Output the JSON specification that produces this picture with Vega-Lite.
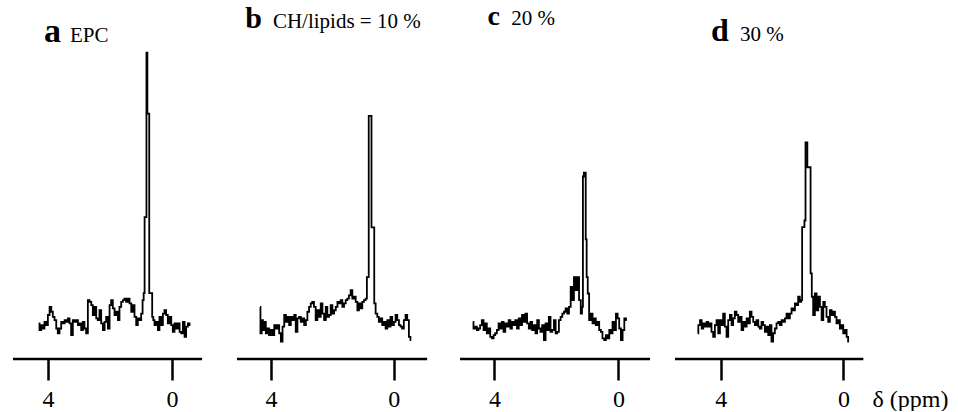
{
  "$schema": "https://vega.github.io/schema/vega-lite/v6.json",
  "padding": {"left": 11, "top": 0, "right": 0, "bottom": 0},
  "background": "white",
  "bounds": "flush",
  "spacing": 0,
  "config": {
    "view": {"stroke": null},
    "axisX": {
      "domain": false,
      "tickColor": "black", "tickWidth": 2.5, "tickSize": 21,
      "labelFont": "Liberation Serif", "labelFontSize": 24, "labelColor": "black",
      "labelBaseline": "alphabetic", "labelPadding": 26, "labelFlush": false, "labelOverlap": false,
      "grid": false
    }
  },
  "datasets": {
    "labels": [
      {"panel": "a", "letter": "a", "name": "EPC"},
      {"panel": "b", "letter": "b", "name": "CH/lipids = 10 %"},
      {"panel": "c", "letter": "c", "name": "20 %"},
      {"panel": "d", "letter": "d", "name": "30 %"}
    ],
    "spectra": [
      {"panel":"a","ppm":4.30,"intensity":11.9},{"panel":"a","ppm":4.25,"intensity":9.7},{"panel":"a","ppm":4.19,"intensity":11.3},{"panel":"a","ppm":4.14,"intensity":10.2},{"panel":"a","ppm":4.09,"intensity":12.4},{"panel":"a","ppm":4.03,"intensity":11.3},{"panel":"a","ppm":3.98,"intensity":14.7},{"panel":"a","ppm":3.92,"intensity":17.4},{"panel":"a","ppm":3.87,"intensity":15.8},{"panel":"a","ppm":3.82,"intensity":14.1},{"panel":"a","ppm":3.76,"intensity":13.0},{"panel":"a","ppm":3.71,"intensity":10.2},{"panel":"a","ppm":3.66,"intensity":8.6},{"panel":"a","ppm":3.60,"intensity":10.2},{"panel":"a","ppm":3.55,"intensity":12.4},{"panel":"a","ppm":3.49,"intensity":11.9},{"panel":"a","ppm":3.44,"intensity":13.0},{"panel":"a","ppm":3.39,"intensity":12.4},{"panel":"a","ppm":3.33,"intensity":13.6},{"panel":"a","ppm":3.28,"intensity":11.9},{"panel":"a","ppm":3.23,"intensity":8.0},{"panel":"a","ppm":3.17,"intensity":13.0},{"panel":"a","ppm":3.12,"intensity":12.4},{"panel":"a","ppm":3.06,"intensity":13.0},{"panel":"a","ppm":3.01,"intensity":11.3},{"panel":"a","ppm":2.96,"intensity":11.9},{"panel":"a","ppm":2.90,"intensity":9.7},{"panel":"a","ppm":2.85,"intensity":12.4},{"panel":"a","ppm":2.80,"intensity":10.2},{"panel":"a","ppm":2.74,"intensity":8.6},{"panel":"a","ppm":2.69,"intensity":19.7},{"panel":"a","ppm":2.63,"intensity":19.1},{"panel":"a","ppm":2.58,"intensity":18.0},{"panel":"a","ppm":2.53,"intensity":14.7},{"panel":"a","ppm":2.47,"intensity":17.4},{"panel":"a","ppm":2.42,"intensity":13.6},{"panel":"a","ppm":2.37,"intensity":13.0},{"panel":"a","ppm":2.31,"intensity":16.3},{"panel":"a","ppm":2.26,"intensity":11.9},{"panel":"a","ppm":2.20,"intensity":9.7},{"panel":"a","ppm":2.15,"intensity":12.4},{"panel":"a","ppm":2.10,"intensity":14.1},{"panel":"a","ppm":2.04,"intensity":10.2},{"panel":"a","ppm":1.99,"intensity":18.0},{"panel":"a","ppm":1.94,"intensity":19.7},{"panel":"a","ppm":1.88,"intensity":16.9},{"panel":"a","ppm":1.83,"intensity":14.7},{"panel":"a","ppm":1.77,"intensity":15.8},{"panel":"a","ppm":1.72,"intensity":13.0},{"panel":"a","ppm":1.67,"intensity":17.4},{"panel":"a","ppm":1.61,"intensity":19.1},{"panel":"a","ppm":1.56,"intensity":19.7},{"panel":"a","ppm":1.51,"intensity":20.2},{"panel":"a","ppm":1.45,"intensity":19.1},{"panel":"a","ppm":1.40,"intensity":20.2},{"panel":"a","ppm":1.34,"intensity":18.6},{"panel":"a","ppm":1.29,"intensity":15.8},{"panel":"a","ppm":1.24,"intensity":18.0},{"panel":"a","ppm":1.18,"intensity":14.1},{"panel":"a","ppm":1.13,"intensity":11.3},{"panel":"a","ppm":1.08,"intensity":13.6},{"panel":"a","ppm":1.02,"intensity":13.0},{"panel":"a","ppm":0.97,"intensity":15.2},{"panel":"a","ppm":0.93,"intensity":19.7},{"panel":"a","ppm":0.90,"intensity":22.0},{"panel":"a","ppm":0.87,"intensity":47.4},{"panel":"a","ppm":0.84,"intensity":47.4},{"panel":"a","ppm":0.81,"intensity":102.4},{"panel":"a","ppm":0.78,"intensity":82.0},{"panel":"a","ppm":0.75,"intensity":82.0},{"panel":"a","ppm":0.72,"intensity":22.0},{"panel":"a","ppm":0.69,"intensity":22.0},{"panel":"a","ppm":0.66,"intensity":22.0},{"panel":"a","ppm":0.62,"intensity":14.1},{"panel":"a","ppm":0.59,"intensity":13.0},{"panel":"a","ppm":0.54,"intensity":11.3},{"panel":"a","ppm":0.48,"intensity":12.4},{"panel":"a","ppm":0.43,"intensity":9.7},{"panel":"a","ppm":0.38,"intensity":14.1},{"panel":"a","ppm":0.32,"intensity":11.3},{"panel":"a","ppm":0.27,"intensity":15.2},{"panel":"a","ppm":0.22,"intensity":16.3},{"panel":"a","ppm":0.16,"intensity":14.7},{"panel":"a","ppm":0.11,"intensity":11.9},{"panel":"a","ppm":0.05,"intensity":14.1},{"panel":"a","ppm":0.00,"intensity":11.3},{"panel":"a","ppm":-0.05,"intensity":9.1},{"panel":"a","ppm":-0.11,"intensity":11.9},{"panel":"a","ppm":-0.16,"intensity":10.2},{"panel":"a","ppm":-0.22,"intensity":11.9},{"panel":"a","ppm":-0.27,"intensity":9.1},{"panel":"a","ppm":-0.32,"intensity":8.6},{"panel":"a","ppm":-0.38,"intensity":12.4},{"panel":"a","ppm":-0.43,"intensity":7.4},{"panel":"a","ppm":-0.48,"intensity":10.8},{"panel":"a","ppm":-0.54,"intensity":11.9},{"panel":"a","ppm":-0.59,"intensity":11.3},

      {"panel":"b","ppm":4.36,"intensity":17.4},{"panel":"b","ppm":4.33,"intensity":8.6},{"panel":"b","ppm":4.28,"intensity":13.0},{"panel":"b","ppm":4.25,"intensity":9.7},{"panel":"b","ppm":4.20,"intensity":12.4},{"panel":"b","ppm":4.14,"intensity":8.6},{"panel":"b","ppm":4.09,"intensity":10.2},{"panel":"b","ppm":4.04,"intensity":8.0},{"panel":"b","ppm":3.98,"intensity":9.7},{"panel":"b","ppm":3.92,"intensity":8.0},{"panel":"b","ppm":3.87,"intensity":11.3},{"panel":"b","ppm":3.82,"intensity":10.2},{"panel":"b","ppm":3.76,"intensity":11.3},{"panel":"b","ppm":3.71,"intensity":8.6},{"panel":"b","ppm":3.65,"intensity":5.8},{"panel":"b","ppm":3.60,"intensity":10.8},{"panel":"b","ppm":3.54,"intensity":14.7},{"panel":"b","ppm":3.49,"intensity":12.4},{"panel":"b","ppm":3.44,"intensity":14.1},{"panel":"b","ppm":3.38,"intensity":11.3},{"panel":"b","ppm":3.33,"intensity":14.1},{"panel":"b","ppm":3.27,"intensity":13.0},{"panel":"b","ppm":3.22,"intensity":14.7},{"panel":"b","ppm":3.17,"intensity":9.1},{"panel":"b","ppm":3.11,"intensity":13.6},{"panel":"b","ppm":3.06,"intensity":14.1},{"panel":"b","ppm":3.00,"intensity":12.4},{"panel":"b","ppm":2.95,"intensity":13.6},{"panel":"b","ppm":2.89,"intensity":11.3},{"panel":"b","ppm":2.84,"intensity":13.0},{"panel":"b","ppm":2.79,"intensity":15.8},{"panel":"b","ppm":2.73,"intensity":17.4},{"panel":"b","ppm":2.68,"intensity":18.6},{"panel":"b","ppm":2.63,"intensity":19.1},{"panel":"b","ppm":2.57,"intensity":17.4},{"panel":"b","ppm":2.52,"intensity":13.0},{"panel":"b","ppm":2.46,"intensity":16.3},{"panel":"b","ppm":2.41,"intensity":14.1},{"panel":"b","ppm":2.35,"intensity":18.6},{"panel":"b","ppm":2.30,"intensity":15.2},{"panel":"b","ppm":2.24,"intensity":13.0},{"panel":"b","ppm":2.19,"intensity":17.4},{"panel":"b","ppm":2.14,"intensity":14.1},{"panel":"b","ppm":2.08,"intensity":14.7},{"panel":"b","ppm":2.03,"intensity":18.0},{"panel":"b","ppm":1.97,"intensity":15.2},{"panel":"b","ppm":1.92,"intensity":16.3},{"panel":"b","ppm":1.86,"intensity":17.4},{"panel":"b","ppm":1.81,"intensity":19.1},{"panel":"b","ppm":1.76,"intensity":18.6},{"panel":"b","ppm":1.70,"intensity":19.7},{"panel":"b","ppm":1.65,"intensity":17.4},{"panel":"b","ppm":1.59,"intensity":18.6},{"panel":"b","ppm":1.54,"intensity":19.7},{"panel":"b","ppm":1.49,"intensity":20.2},{"panel":"b","ppm":1.43,"intensity":21.3},{"panel":"b","ppm":1.38,"intensity":23.0},{"panel":"b","ppm":1.32,"intensity":20.2},{"panel":"b","ppm":1.27,"intensity":20.8},{"panel":"b","ppm":1.21,"intensity":19.1},{"panel":"b","ppm":1.16,"intensity":16.3},{"panel":"b","ppm":1.11,"intensity":18.6},{"panel":"b","ppm":1.05,"intensity":16.9},{"panel":"b","ppm":1.00,"intensity":19.1},{"panel":"b","ppm":0.94,"intensity":19.7},{"panel":"b","ppm":0.89,"intensity":20.2},{"panel":"b","ppm":0.86,"intensity":27.4},{"panel":"b","ppm":0.83,"intensity":27.4},{"panel":"b","ppm":0.80,"intensity":81.3},{"panel":"b","ppm":0.77,"intensity":81.3},{"panel":"b","ppm":0.74,"intensity":81.3},{"panel":"b","ppm":0.71,"intensity":44.0},{"panel":"b","ppm":0.68,"intensity":44.0},{"panel":"b","ppm":0.65,"intensity":44.0},{"panel":"b","ppm":0.62,"intensity":18.6},{"panel":"b","ppm":0.56,"intensity":15.2},{"panel":"b","ppm":0.51,"intensity":14.1},{"panel":"b","ppm":0.46,"intensity":12.4},{"panel":"b","ppm":0.40,"intensity":13.6},{"panel":"b","ppm":0.35,"intensity":11.3},{"panel":"b","ppm":0.29,"intensity":12.4},{"panel":"b","ppm":0.24,"intensity":10.2},{"panel":"b","ppm":0.18,"intensity":13.0},{"panel":"b","ppm":0.13,"intensity":10.8},{"panel":"b","ppm":0.08,"intensity":14.1},{"panel":"b","ppm":0.02,"intensity":11.3},{"panel":"b","ppm":-0.03,"intensity":12.4},{"panel":"b","ppm":-0.09,"intensity":14.7},{"panel":"b","ppm":-0.14,"intensity":13.0},{"panel":"b","ppm":-0.20,"intensity":11.3},{"panel":"b","ppm":-0.25,"intensity":10.8},{"panel":"b","ppm":-0.30,"intensity":10.2},{"panel":"b","ppm":-0.36,"intensity":13.0},{"panel":"b","ppm":-0.41,"intensity":14.7},{"panel":"b","ppm":-0.47,"intensity":13.0},{"panel":"b","ppm":-0.52,"intensity":7.4},{"panel":"b","ppm":-0.57,"intensity":6.3},

      {"panel":"c","ppm":4.70,"intensity":12.4},{"panel":"c","ppm":4.65,"intensity":10.2},{"panel":"c","ppm":4.59,"intensity":10.8},{"panel":"c","ppm":4.54,"intensity":9.7},{"panel":"c","ppm":4.49,"intensity":10.2},{"panel":"c","ppm":4.43,"intensity":11.3},{"panel":"c","ppm":4.38,"intensity":13.0},{"panel":"c","ppm":4.32,"intensity":9.7},{"panel":"c","ppm":4.27,"intensity":11.9},{"panel":"c","ppm":4.22,"intensity":8.6},{"panel":"c","ppm":4.16,"intensity":10.2},{"panel":"c","ppm":4.11,"intensity":7.4},{"panel":"c","ppm":4.05,"intensity":6.9},{"panel":"c","ppm":4.00,"intensity":8.0},{"panel":"c","ppm":3.95,"intensity":8.6},{"panel":"c","ppm":3.89,"intensity":9.7},{"panel":"c","ppm":3.84,"intensity":11.9},{"panel":"c","ppm":3.78,"intensity":10.2},{"panel":"c","ppm":3.73,"intensity":12.4},{"panel":"c","ppm":3.68,"intensity":9.1},{"panel":"c","ppm":3.62,"intensity":11.9},{"panel":"c","ppm":3.57,"intensity":10.8},{"panel":"c","ppm":3.51,"intensity":13.0},{"panel":"c","ppm":3.46,"intensity":10.2},{"panel":"c","ppm":3.41,"intensity":12.4},{"panel":"c","ppm":3.35,"intensity":11.3},{"panel":"c","ppm":3.30,"intensity":13.0},{"panel":"c","ppm":3.24,"intensity":10.2},{"panel":"c","ppm":3.19,"intensity":13.6},{"panel":"c","ppm":3.14,"intensity":11.3},{"panel":"c","ppm":3.08,"intensity":14.7},{"panel":"c","ppm":3.03,"intensity":12.4},{"panel":"c","ppm":2.97,"intensity":15.2},{"panel":"c","ppm":2.92,"intensity":11.9},{"panel":"c","ppm":2.86,"intensity":10.2},{"panel":"c","ppm":2.81,"intensity":12.4},{"panel":"c","ppm":2.76,"intensity":9.7},{"panel":"c","ppm":2.70,"intensity":11.3},{"panel":"c","ppm":2.65,"intensity":8.6},{"panel":"c","ppm":2.59,"intensity":13.0},{"panel":"c","ppm":2.54,"intensity":10.2},{"panel":"c","ppm":2.49,"intensity":9.1},{"panel":"c","ppm":2.43,"intensity":11.3},{"panel":"c","ppm":2.38,"intensity":6.3},{"panel":"c","ppm":2.32,"intensity":11.9},{"panel":"c","ppm":2.27,"intensity":9.7},{"panel":"c","ppm":2.22,"intensity":14.1},{"panel":"c","ppm":2.16,"intensity":9.1},{"panel":"c","ppm":2.11,"intensity":9.7},{"panel":"c","ppm":2.05,"intensity":13.0},{"panel":"c","ppm":2.00,"intensity":8.6},{"panel":"c","ppm":1.95,"intensity":9.1},{"panel":"c","ppm":1.89,"intensity":13.0},{"panel":"c","ppm":1.84,"intensity":14.1},{"panel":"c","ppm":1.78,"intensity":15.2},{"panel":"c","ppm":1.73,"intensity":15.8},{"panel":"c","ppm":1.68,"intensity":16.9},{"panel":"c","ppm":1.62,"intensity":15.2},{"panel":"c","ppm":1.57,"intensity":17.4},{"panel":"c","ppm":1.51,"intensity":24.1},{"panel":"c","ppm":1.46,"intensity":19.7},{"panel":"c","ppm":1.41,"intensity":27.4},{"panel":"c","ppm":1.35,"intensity":23.0},{"panel":"c","ppm":1.30,"intensity":27.4},{"panel":"c","ppm":1.24,"intensity":19.7},{"panel":"c","ppm":1.19,"intensity":15.2},{"panel":"c","ppm":1.16,"intensity":17.4},{"panel":"c","ppm":1.13,"intensity":61.0},{"panel":"c","ppm":1.10,"intensity":62.3},{"panel":"c","ppm":1.07,"intensity":62.3},{"panel":"c","ppm":1.04,"intensity":40.0},{"panel":"c","ppm":1.01,"intensity":27.4},{"panel":"c","ppm":0.97,"intensity":21.9},{"panel":"c","ppm":0.92,"intensity":13.0},{"panel":"c","ppm":0.86,"intensity":15.2},{"panel":"c","ppm":0.81,"intensity":11.9},{"panel":"c","ppm":0.76,"intensity":13.6},{"panel":"c","ppm":0.70,"intensity":11.3},{"panel":"c","ppm":0.65,"intensity":12.4},{"panel":"c","ppm":0.59,"intensity":9.7},{"panel":"c","ppm":0.54,"intensity":9.1},{"panel":"c","ppm":0.49,"intensity":6.9},{"panel":"c","ppm":0.43,"intensity":6.3},{"panel":"c","ppm":0.38,"intensity":8.0},{"panel":"c","ppm":0.32,"intensity":6.9},{"panel":"c","ppm":0.27,"intensity":9.7},{"panel":"c","ppm":0.22,"intensity":8.6},{"panel":"c","ppm":0.16,"intensity":12.4},{"panel":"c","ppm":0.11,"intensity":9.7},{"panel":"c","ppm":0.05,"intensity":15.2},{"panel":"c","ppm":0.00,"intensity":13.6},{"panel":"c","ppm":-0.05,"intensity":10.2},{"panel":"c","ppm":-0.11,"intensity":6.3},{"panel":"c","ppm":-0.16,"intensity":9.7},{"panel":"c","ppm":-0.22,"intensity":13.6},{"panel":"c","ppm":-0.27,"intensity":13.0},

      {"panel":"d","ppm":4.75,"intensity":8.6},{"panel":"d","ppm":4.71,"intensity":11.3},{"panel":"d","ppm":4.64,"intensity":13.0},{"panel":"d","ppm":4.60,"intensity":10.2},{"panel":"d","ppm":4.54,"intensity":11.9},{"panel":"d","ppm":4.49,"intensity":10.8},{"panel":"d","ppm":4.43,"intensity":12.4},{"panel":"d","ppm":4.38,"intensity":10.8},{"panel":"d","ppm":4.33,"intensity":11.9},{"panel":"d","ppm":4.27,"intensity":9.1},{"panel":"d","ppm":4.22,"intensity":7.4},{"panel":"d","ppm":4.16,"intensity":11.3},{"panel":"d","ppm":4.11,"intensity":13.0},{"panel":"d","ppm":4.05,"intensity":8.6},{"panel":"d","ppm":4.00,"intensity":13.0},{"panel":"d","ppm":3.95,"intensity":11.3},{"panel":"d","ppm":3.89,"intensity":15.2},{"panel":"d","ppm":3.84,"intensity":10.8},{"panel":"d","ppm":3.78,"intensity":7.4},{"panel":"d","ppm":3.73,"intensity":13.0},{"panel":"d","ppm":3.67,"intensity":14.7},{"panel":"d","ppm":3.62,"intensity":11.3},{"panel":"d","ppm":3.57,"intensity":13.6},{"panel":"d","ppm":3.51,"intensity":15.8},{"panel":"d","ppm":3.46,"intensity":14.7},{"panel":"d","ppm":3.40,"intensity":12.4},{"panel":"d","ppm":3.35,"intensity":14.1},{"panel":"d","ppm":3.29,"intensity":9.7},{"panel":"d","ppm":3.24,"intensity":12.4},{"panel":"d","ppm":3.18,"intensity":10.8},{"panel":"d","ppm":3.13,"intensity":13.6},{"panel":"d","ppm":3.08,"intensity":11.9},{"panel":"d","ppm":3.02,"intensity":15.8},{"panel":"d","ppm":2.97,"intensity":14.1},{"panel":"d","ppm":2.91,"intensity":12.4},{"panel":"d","ppm":2.86,"intensity":11.3},{"panel":"d","ppm":2.80,"intensity":13.0},{"panel":"d","ppm":2.75,"intensity":10.8},{"panel":"d","ppm":2.70,"intensity":10.2},{"panel":"d","ppm":2.64,"intensity":12.4},{"panel":"d","ppm":2.59,"intensity":11.3},{"panel":"d","ppm":2.53,"intensity":9.1},{"panel":"d","ppm":2.48,"intensity":10.8},{"panel":"d","ppm":2.42,"intensity":8.0},{"panel":"d","ppm":2.37,"intensity":11.3},{"panel":"d","ppm":2.32,"intensity":5.8},{"panel":"d","ppm":2.26,"intensity":8.6},{"panel":"d","ppm":2.21,"intensity":10.2},{"panel":"d","ppm":2.15,"intensity":11.9},{"panel":"d","ppm":2.10,"intensity":12.4},{"panel":"d","ppm":2.04,"intensity":11.3},{"panel":"d","ppm":1.99,"intensity":13.0},{"panel":"d","ppm":1.93,"intensity":12.4},{"panel":"d","ppm":1.88,"intensity":13.6},{"panel":"d","ppm":1.83,"intensity":15.2},{"panel":"d","ppm":1.77,"intensity":13.6},{"panel":"d","ppm":1.72,"intensity":15.2},{"panel":"d","ppm":1.66,"intensity":16.9},{"panel":"d","ppm":1.61,"intensity":16.3},{"panel":"d","ppm":1.55,"intensity":18.6},{"panel":"d","ppm":1.50,"intensity":18.0},{"panel":"d","ppm":1.45,"intensity":20.8},{"panel":"d","ppm":1.39,"intensity":19.1},{"panel":"d","ppm":1.36,"intensity":19.7},{"panel":"d","ppm":1.33,"intensity":44.1},{"panel":"d","ppm":1.29,"intensity":44.1},{"panel":"d","ppm":1.25,"intensity":46.3},{"panel":"d","ppm":1.22,"intensity":72.4},{"panel":"d","ppm":1.19,"intensity":72.4},{"panel":"d","ppm":1.16,"intensity":64.1},{"panel":"d","ppm":1.12,"intensity":64.1},{"panel":"d","ppm":1.09,"intensity":64.1},{"panel":"d","ppm":1.05,"intensity":28.6},{"panel":"d","ppm":1.01,"intensity":20.8},{"panel":"d","ppm":0.96,"intensity":14.7},{"panel":"d","ppm":0.90,"intensity":21.9},{"panel":"d","ppm":0.85,"intensity":16.3},{"panel":"d","ppm":0.79,"intensity":20.8},{"panel":"d","ppm":0.74,"intensity":17.4},{"panel":"d","ppm":0.68,"intensity":13.0},{"panel":"d","ppm":0.63,"intensity":19.1},{"panel":"d","ppm":0.58,"intensity":17.4},{"panel":"d","ppm":0.52,"intensity":14.1},{"panel":"d","ppm":0.47,"intensity":12.4},{"panel":"d","ppm":0.41,"intensity":16.3},{"panel":"d","ppm":0.36,"intensity":14.7},{"panel":"d","ppm":0.30,"intensity":15.8},{"panel":"d","ppm":0.25,"intensity":14.1},{"panel":"d","ppm":0.20,"intensity":11.9},{"panel":"d","ppm":0.14,"intensity":13.0},{"panel":"d","ppm":0.09,"intensity":10.2},{"panel":"d","ppm":0.03,"intensity":11.3},{"panel":"d","ppm":-0.02,"intensity":8.6},{"panel":"d","ppm":-0.08,"intensity":9.7},{"panel":"d","ppm":-0.13,"intensity":7.4},{"panel":"d","ppm":-0.18,"intensity":5.8}
    ]
  },
  "hconcat": [
    {
      "width": 224, "height": 359,
      "layer": [
        {"data": {"name": "spectra"}, "transform": [{"filter": "datum.panel === 'a'"}],
         "mark": {"type": "line", "interpolate": "step", "color": "black", "strokeWidth": 1.8},
         "encoding": {
           "x": {"field": "ppm", "type": "quantitative", "scale": {"domain": [-2.096, 5.13], "reverse": true, "nice": false, "zero": false}, "axis": {"title": null, "values": [4, 0], "format": "d"}},
           "y": {"field": "intensity", "type": "quantitative", "scale": {"domain": [0, 120], "nice": false, "zero": false}, "axis": null}
         }},
        {"data": {"name": "labels"}, "transform": [{"filter": "datum.panel === 'a'"}],
         "mark": {"type": "rule", "color": "black", "strokeWidth": 2.5},
         "encoding": {"x": {"datum": 5.13}, "x2": {"datum": -0.97}, "y": {"datum": 0}}},
        {"data": {"name": "labels"}, "transform": [{"filter": "datum.panel === 'a'"}],
         "mark": {"type": "text", "align": "left", "baseline": "alphabetic", "font": "Liberation Serif", "fontSize": 34, "fontWeight": "bold", "color": "black"},
         "encoding": {"x": {"datum": 4.13}, "y": {"datum": 105.8}, "text": {"field": "letter"}}},
        {"data": {"name": "labels"}, "transform": [{"filter": "datum.panel === 'a'"}],
         "mark": {"type": "text", "align": "left", "baseline": "alphabetic", "font": "Liberation Serif", "fontSize": 21, "color": "black"},
         "encoding": {"x": {"datum": 3.29}, "y": {"datum": 105.8}, "text": {"field": "name"}}}
      ]
    },
    {
      "width": 223, "height": 359,
      "layer": [
        {"data": {"name": "spectra"}, "transform": [{"filter": "datum.panel === 'b'"}],
         "mark": {"type": "line", "interpolate": "step", "color": "black", "strokeWidth": 1.8},
         "encoding": {
           "x": {"field": "ppm", "type": "quantitative", "scale": {"domain": [-2.161, 5.11], "reverse": true, "nice": false, "zero": false}, "axis": {"title": null, "values": [4, 0], "format": "d"}},
           "y": {"field": "intensity", "type": "quantitative", "scale": {"domain": [0, 120], "nice": false, "zero": false}, "axis": null}
         }},
        {"data": {"name": "labels"}, "transform": [{"filter": "datum.panel === 'b'"}],
         "mark": {"type": "rule", "color": "black", "strokeWidth": 2.5},
         "encoding": {"x": {"datum": 5.11}, "x2": {"datum": -1.09}, "y": {"datum": 0}}},
        {"data": {"name": "labels"}, "transform": [{"filter": "datum.panel === 'b'"}],
         "mark": {"type": "text", "align": "left", "baseline": "alphabetic", "font": "Liberation Serif", "fontSize": 30, "fontWeight": "bold", "color": "black"},
         "encoding": {"x": {"datum": 4.84}, "y": {"datum": 110.5}, "text": {"field": "letter"}}},
        {"data": {"name": "labels"}, "transform": [{"filter": "datum.panel === 'b'"}],
         "mark": {"type": "text", "align": "left", "baseline": "alphabetic", "font": "Liberation Serif", "fontSize": 21, "color": "black"},
         "encoding": {"x": {"datum": 3.94}, "y": {"datum": 110.5}, "text": {"field": "name"}}}
      ]
    },
    {
      "width": 215, "height": 359,
      "layer": [
        {"data": {"name": "spectra"}, "transform": [{"filter": "datum.panel === 'c'"}],
         "mark": {"type": "line", "interpolate": "step", "color": "black", "strokeWidth": 1.8},
         "encoding": {
           "x": {"field": "ppm", "type": "quantitative", "scale": {"domain": [-1.825, 5.11], "reverse": true, "nice": false, "zero": false}, "axis": {"title": null, "values": [4, 0], "format": "d"}},
           "y": {"field": "intensity", "type": "quantitative", "scale": {"domain": [0, 120], "nice": false, "zero": false}, "axis": null}
         }},
        {"data": {"name": "labels"}, "transform": [{"filter": "datum.panel === 'c'"}],
         "mark": {"type": "rule", "color": "black", "strokeWidth": 2.5},
         "encoding": {"x": {"datum": 5.11}, "x2": {"datum": -1.02}, "y": {"datum": 0}}},
        {"data": {"name": "labels"}, "transform": [{"filter": "datum.panel === 'c'"}],
         "mark": {"type": "text", "align": "left", "baseline": "alphabetic", "font": "Liberation Serif", "fontSize": 28, "fontWeight": "bold", "color": "black"},
         "encoding": {"x": {"datum": 4.22}, "y": {"datum": 111.8}, "text": {"field": "letter"}}},
        {"data": {"name": "labels"}, "transform": [{"filter": "datum.panel === 'c'"}],
         "mark": {"type": "text", "align": "left", "baseline": "alphabetic", "font": "Liberation Serif", "fontSize": 21, "color": "black"},
         "encoding": {"x": {"datum": 3.46}, "y": {"datum": 111.8}, "text": {"field": "name"}}}
      ]
    },
    {
      "width": 189, "height": 359,
      "layer": [
        {"data": {"name": "spectra"}, "transform": [{"filter": "datum.panel === 'd'"}],
         "mark": {"type": "line", "interpolate": "step", "color": "black", "strokeWidth": 1.8},
         "encoding": {
           "x": {"field": "ppm", "type": "quantitative", "scale": {"domain": [-0.672, 5.49], "reverse": true, "nice": false, "zero": false},
                 "axis": {"values": [4, 0], "format": "d", "title": "δ (ppm)", "titleX": 197, "titleY": 47, "titleAlign": "left", "titleBaseline": "alphabetic", "titleAngle": 0, "titleFont": "Liberation Serif", "titleFontSize": 24, "titleFontWeight": "normal", "titleColor": "black"}},
           "y": {"field": "intensity", "type": "quantitative", "scale": {"domain": [0, 120], "nice": false, "zero": false}, "axis": null}
         }},
        {"data": {"name": "labels"}, "transform": [{"filter": "datum.panel === 'd'"}],
         "mark": {"type": "rule", "color": "black", "strokeWidth": 2.5},
         "encoding": {"x": {"datum": 5.49}, "x2": {"datum": -0.65}, "y": {"datum": 0}}},
        {"data": {"name": "labels"}, "transform": [{"filter": "datum.panel === 'd'"}],
         "mark": {"type": "text", "align": "left", "baseline": "alphabetic", "font": "Liberation Serif", "fontSize": 32, "fontWeight": "bold", "color": "black"},
         "encoding": {"x": {"datum": 4.32}, "y": {"datum": 106.2}, "text": {"field": "letter"}}},
        {"data": {"name": "labels"}, "transform": [{"filter": "datum.panel === 'd'"}],
         "mark": {"type": "text", "align": "left", "baseline": "alphabetic", "font": "Liberation Serif", "fontSize": 21, "color": "black"},
         "encoding": {"x": {"datum": 3.37}, "y": {"datum": 106.2}, "text": {"field": "name"}}}
      ]
    }
  ]
}
